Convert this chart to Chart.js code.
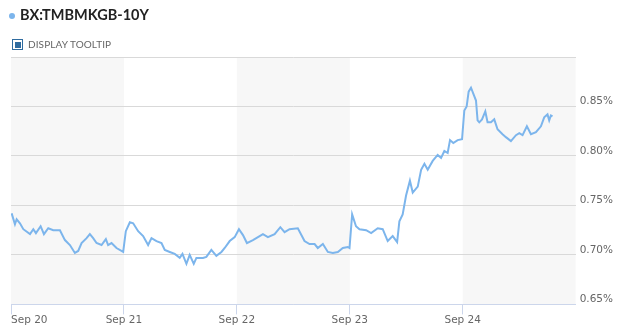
<!DOCTYPE html>
<html>
<head>
<meta charset="utf-8">
<script src="https://cdn.jsdelivr.net/npm/chart.js@4"></script>
<style>
  html, body { margin: 0; padding: 0; background: #fff; }
  #wrap { position: relative; width: 622px; height: 333px; overflow: hidden; }
  #chart { position: absolute; left: 0; top: 0; }
  .dot { position: absolute; left: 9px; top: 13px; width: 6px; height: 6px; border-radius: 50%; background: #7cb5ec; }
  .title { position: absolute; left: 20px; top: 6px; line-height: 16px; font: bold 14.5px Lato, sans-serif; color: #222; }
  .box { position: absolute; left: 12px; top: 39px; width: 9px; height: 9px; border: 1.5px solid #2f6b9f; }
  .box span { position: absolute; left: 1.5px; top: 1.5px; width: 6px; height: 6px; background: #2f6b9f; }
  .tip { position: absolute; left: 28px; top: 38px; line-height: 13px; font: 10px Lato, sans-serif; color: #666; letter-spacing: 0.1px; }
</style>
</head>
<body>
<div id="wrap">
  <canvas id="chart" width="622" height="333"></canvas>
  <div class="dot"></div>
  <div class="title">BX:TMBMKGB-10Y</div>
  <div class="box"><span></span></div>
  <div class="tip">DISPLAY TOOLTIP</div>
</div>
<script>
// months since Sep 2020
const months = [
  0.07, 0.42, 0.60, 0.95, 1.31, 2.02, 2.37, 2.65, 3.15, 3.50, 3.96, 4.49, 5.20, 5.73, 6.26, 6.79,
  7.14, 7.50, 8.03, 8.38, 8.73, 9.09, 9.62, 10.08, 10.32, 10.68, 11.21, 11.92, 12.20, 12.63, 12.98, 13.51,
  14.04, 14.57, 14.93, 15.46, 15.99, 16.34, 16.87, 17.40, 17.93, 18.22, 18.64, 18.99, 19.42, 19.70, 20.40, 20.76,
  21.29, 21.82, 22.36, 22.71, 23.24, 23.77, 24.22, 24.65, 25.07, 25.71, 26.42, 26.77, 27.30, 28.01, 28.62, 29.07,
  29.60, 30.48, 31.19, 31.72, 32.26, 32.60, 33.14, 33.67, 34.20, 34.73, 35.26, 35.79, 35.97, 36.25, 36.66, 37.03,
  37.74, 38.27, 38.97, 39.50, 40.03, 40.56, 41.03, 41.27, 41.62, 41.98, 42.39, 42.69, 43.22, 43.58, 43.93, 44.28,
  44.81, 45.34, 45.70, 46.05, 46.40, 46.65, 47.00, 47.46, 47.93, 48.17, 48.42, 48.63, 48.88, 49.41, 49.58, 49.76,
  50.05, 50.40, 50.64, 51.00, 51.35, 51.70, 52.23, 52.59, 53.12, 53.66, 54.01, 54.36, 54.82, 55.25, 55.78, 56.31,
  56.66, 57.01, 57.19, 57.37, 57.54
];
// yield, %
const yields = [
  0.742, 0.731, 0.736, 0.732, 0.726, 0.721, 0.726, 0.722, 0.729, 0.721, 0.727, 0.725, 0.725, 0.715, 0.710, 0.702,
  0.704, 0.712, 0.717, 0.721, 0.717, 0.712, 0.710, 0.716, 0.710, 0.712, 0.707, 0.703, 0.724, 0.733, 0.732, 0.724,
  0.719, 0.710, 0.717, 0.714, 0.712, 0.705, 0.703, 0.701, 0.697, 0.701, 0.691, 0.700, 0.691, 0.697, 0.697, 0.698,
  0.705, 0.699, 0.703, 0.707, 0.714, 0.718, 0.726, 0.720, 0.712, 0.715, 0.719, 0.721, 0.718, 0.721, 0.728, 0.723,
  0.726, 0.727, 0.714, 0.711, 0.711, 0.707, 0.711, 0.703, 0.702, 0.703, 0.707, 0.708, 0.707, 0.741, 0.729, 0.726,
  0.725, 0.722, 0.727, 0.726, 0.714, 0.719, 0.713, 0.734, 0.741, 0.760, 0.775, 0.763, 0.769, 0.786, 0.792, 0.786,
  0.795, 0.801, 0.798, 0.805, 0.803, 0.816, 0.813, 0.816, 0.817, 0.846, 0.850, 0.865, 0.869, 0.856, 0.836, 0.834,
  0.837, 0.845, 0.834, 0.834, 0.837, 0.827, 0.822, 0.819, 0.815, 0.821, 0.823, 0.821, 0.830, 0.822, 0.824, 0.830,
  0.839, 0.842, 0.836, 0.841, 0.840
];
const yearLabels = ['Sep 20', 'Sep 21', 'Sep 22', 'Sep 23', 'Sep 24'];
const yTicks = [0.65, 0.70, 0.75, 0.80, 0.85, 0.90];

const axisFont = { family: 'DejaVu Sans', size: 10.5 };

// alternating year bands behind the grid
const bands = {
  id: 'bands',
  beforeDraw(chart) {
    const { ctx, chartArea, scales } = chart;
    ctx.save();
    ctx.fillStyle = '#f7f7f7';
    for (let i = 0; i <= yearLabels.length; i += 2) {
      const x0 = scales.x.getPixelForValue(i * 12);
      const x1 = scales.x.getPixelForValue(Math.min((i + 1) * 12, 60));
      ctx.fillRect(x0, chartArea.top, x1 - x0, chartArea.bottom - chartArea.top);
    }
    ctx.restore();
  }
};

new Chart(document.getElementById('chart'), {
  type: 'line',
  data: {
    datasets: [{
      data: months.map((m, i) => ({ x: m, y: yields[i] })),
      borderColor: '#7cb5ec',
      borderWidth: 2,
      pointRadius: 0,
      tension: 0,
      fill: false,
    }],
  },
  options: {
    responsive: false,
    animation: false,
    layout: { padding: { left: 11, top: 57, right: 5, bottom: 6 } },
    plugins: { legend: { display: false }, tooltip: { enabled: false } },
    scales: {
      x: {
        type: 'linear',
        min: 0,
        max: 60,
        afterBuildTicks(scale) {
          scale.ticks = [0, 12, 24, 36, 48, 60].map(v => ({ value: v }));
        },
        border: { color: '#ccd6eb', width: 1 },
        grid: {
          drawOnChartArea: false,
          tickLength: 10,
          tickColor: ctx => (ctx.tick && ctx.tick.value < 60 ? '#ccd6eb' : 'rgba(0,0,0,0)'),
        },
        ticks: {
          align: 'inner',
          maxRotation: 0,
          padding: 0,
          color: '#666',
          font: axisFont,
          callback: v => yearLabels[v / 12] || '',
        },
      },
      y: {
        position: 'right',
        min: 0.65,
        max: 0.90,
        afterBuildTicks(scale) {
          scale.ticks = yTicks.map(v => ({ value: v }));
        },
        border: { display: false },
        grid: { color: '#d9d9d9', drawTicks: false },
        ticks: {
          padding: 4,
          labelOffset: -5,
          color: '#666',
          font: axisFont,
          callback: v => (v > 0.89 ? '' : v.toFixed(2) + '%'),
        },
      },
    },
  },
  plugins: [bands],
});
</script>
</body>
</html>
